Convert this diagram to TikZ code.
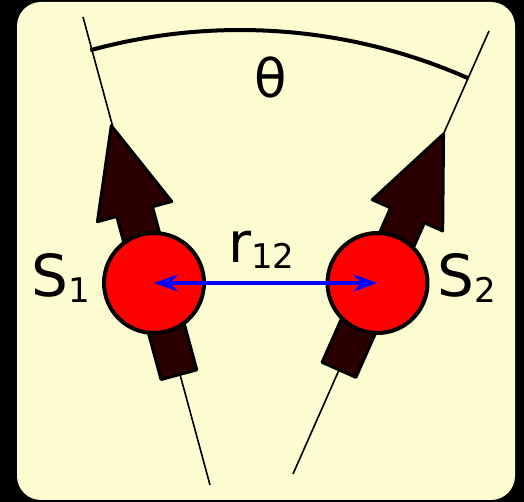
\documentclass[tikz,border=0pt]{standalone}
\usepackage{fontspec}
\setmainfont{DejaVu Sans}
\usetikzlibrary{arrows.meta}
\definecolor{cream}{RGB}{252,252,208}
\definecolor{spinred}{RGB}{255,0,0}
\definecolor{spindark}{RGB}{42,0,0}
\definecolor{bondblue}{RGB}{0,0,255}
\tikzset{
  guide/.style={line width=1.6pt, black},
  spinarrow/.style={fill=spindark, draw=black, line width=3pt, line join=round},
  spinball/.style={circle, minimum size=100pt, inner sep=0pt, fill=spinred, draw=black, line width=4pt},
  lbl/.style={inner sep=0pt, anchor=base west},
}
\newcommand{\spinshape}{(-95,-18.5) -- (74,-18.5) -- (74,-38.5) -- (163,0) -- (74,38.5) -- (74,18.5) -- (-95,18.5) -- cycle}
\newcommand{\subtxt}[1]{\raisebox{-5.5pt}{\fontsize{34}{34}\selectfont #1}}
\begin{document}
\begin{tikzpicture}[x=1pt,y=1pt]
\useasboundingbox (0,0) rectangle (524,502);
\fill[black] (0,0) rectangle (524,502);
\fill[cream, rounded corners=24pt] (17,2) rectangle (515,500);
% guide lines
\coordinate (l1a) at (83,485);
\coordinate (l1b) at (210,17);
\coordinate (l2a) at (489,471);
\coordinate (l2b) at (293,28);
\draw[guide] (l1a) -- (l1b);
\draw[guide] (l2a) -- (l2b);
% angle arc
\coordinate (O) at (240,-92);
\draw[line width=4pt] ([shift={(105.4:564)}]O) arc[start angle=105.4, end angle=66.2, radius=564];
% spin arrows
\begin{scope}[shift={(154,219)}, rotate=105.2]
  \draw[spinarrow] \spinshape;
\end{scope}
\begin{scope}[shift={(377.5,219)}, rotate=66.1]
  \draw[spinarrow] \spinshape;
\end{scope}
% spins
\node[spinball] (s1) at (154,219) {};
\node[spinball] (s2) at (377.5,219) {};
\draw[bondblue, line width=4pt, {Stealth[length=24pt,width=17pt,inset=8pt]}-{Stealth[length=24pt,width=17pt,inset=8pt]}] (s1.center) -- (s2.center);
% labels
\node[lbl] (t1) at (31,205) {\fontsize{58}{58}\selectfont S\subtxt{1}};
\node[lbl] (t2) at (437,205) {\fontsize{58}{58}\selectfont S\subtxt{2}};
\node[lbl] (r12) at (228,239) {\fontsize{56}{56}\selectfont r\subtxt{12}};
\node[inner sep=0pt, anchor=base] (th) at (271,404) {\fontsize{53}{53}\selectfont θ};
\end{tikzpicture}
\end{document}
